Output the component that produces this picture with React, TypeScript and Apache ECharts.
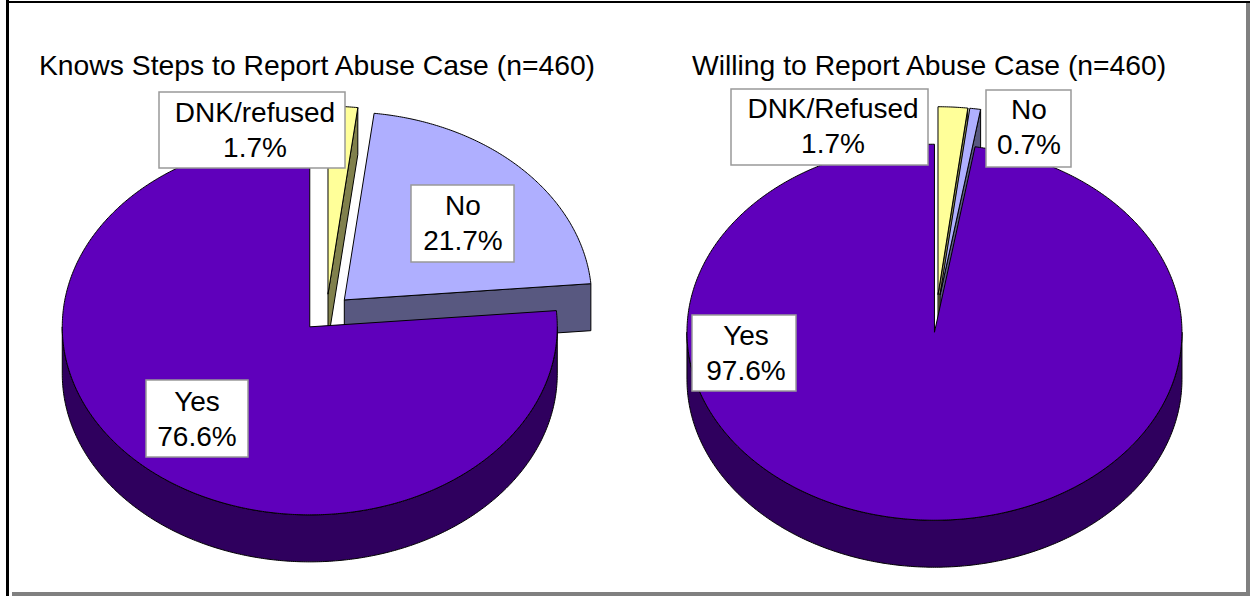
import React, { useEffect, useRef } from "react";
import * as echarts from "echarts";

// Data
const leftTitle = "Knows Steps to Report Abuse Case (n=460)";
const rightTitle = "Willing to Report Abuse Case (n=460)";
const leftCategories = ["DNK/refused", "No", "Yes"];
const leftValues = [1.7, 21.7, 76.6];
const rightCategories = ["DNK/Refused", "No", "Yes"];
const rightValues = [1.7, 0.7, 97.6];

const TOP_COLORS = ["#FFFF99", "#AFAFFF", "#5F00BB"];
const WALL_COLORS = ["#80804C", "#585880", "#2F005E"];

const RX = 247.5;
const RY = 188;
const DEPTH = 47;
const EXPLODE = 0.1;
const FIRST_EDGE_SHIFT = 0.8; // the original's projection places inner slice edges slightly clockwise
const FONT = "'Liberation Sans', Arial, sans-serif";

const rad = (d: number) => (d * Math.PI) / 180;

function makeSeries(values: number[], cx: number, cy: number) {
  const total = values.reduce((a, b) => a + b, 0);
  // slices run clockwise from 12 o'clock, so in maths angles they descend from 90°
  const spans: [number, number][] = [];
  let cur = 90 - FIRST_EDGE_SHIFT;
  values.forEach((v, idx) => {
    const next = cur - (v / total) * 360;
    spans.push([idx === values.length - 1 ? -270 : next, idx === 0 ? 90 : cur]);
    cur = next;
  });

  return {
    type: "custom",
    coordinateSystem: "none",
    silent: true,
    data: values.map((v) => [v]),
    renderItem: (params: any) => {
      const i = params.dataIndex;
      const [a1, a2] = spans[i];
      const mid = rad((a1 + a2) / 2);
      const ox = cx + EXPLODE * RX * Math.cos(mid);
      const oy = cy - EXPLODE * RY * Math.sin(mid);
      const pt = (deg: number, dz = 0) => [
        ox + RX * Math.cos(rad(deg)),
        oy - RY * Math.sin(rad(deg)) + dz,
      ];
      const stroke = { stroke: "#000", lineWidth: 1, lineJoin: "round" };
      const children: any[] = [];

      const arc = (from: number, to: number, dz = 0) => {
        const out: number[][] = [];
        const n = Math.max(2, Math.ceil(Math.abs(to - from) * 2));
        for (let k = 0; k <= n; k++) out.push(pt(from + ((to - from) * k) / n, dz));
        return out;
      };
      const wallPoly = (points: number[][]) =>
        children.push({
          type: "polygon",
          shape: { points },
          style: { fill: WALL_COLORS[i], ...stroke },
        });

      // cut face that looks towards the viewer
      if (i < values.length - 1 && Math.cos(rad(a1)) > 1e-6) {
        wallPoly([[ox, oy], pt(a1), pt(a1, DEPTH), [ox, oy + DEPTH]]);
      }

      // outer rim: the part on the front half of the ellipse
      for (let shift = -720; shift <= 360; shift += 360) {
        const from = Math.max(a1, 180 + shift);
        const to = Math.min(a2, 360 + shift);
        if (to > from) {
          wallPoly([...arc(from, to), ...arc(to, from, DEPTH)]);
        }
      }

      // top face
      children.push({
        type: "polygon",
        shape: { points: [[ox, oy], ...arc(a1, a2)] },
        style: { fill: TOP_COLORS[i], ...stroke },
      });
      return { type: "group", children };
    },
  };
}

function labelBox(
  name: string,
  value: number,
  box: [number, number, number, number],
  textX: number,
  textY: number
) {
  return [
    {
      type: "rect",
      z: 100,
      shape: { x: box[0], y: box[1], width: box[2], height: box[3] },
      style: { fill: "#fff", stroke: "#999", lineWidth: 1.5 },
    },
    {
      type: "text",
      z: 101,
      x: textX,
      y: textY,
      style: {
        text: `${name}\n${value}%`,
        fill: "#000",
        font: `28px ${FONT}`,
        lineHeight: 35,
        textAlign: "center",
        textVerticalAlign: "top",
      },
    },
  ];
}

const frameRect = (x: number, y: number, width: number, height: number, fill: string) => ({
  type: "rect",
  z: 200,
  shape: { x, y, width, height },
  style: { fill },
});

const titleStyle = { fontFamily: FONT, fontSize: 28.3, fontWeight: "normal", color: "#000" };

export default function App() {
  const ref = useRef<HTMLDivElement>(null);
  useEffect(() => {
    document.body.style.margin = "0";
    document.body.style.overflow = "hidden";
    const chart = echarts.init(ref.current!, null, { renderer: "svg" });
    // draw order: the first slices lie behind, and Yes comes last
    chart.setOption({
      animation: false,
      backgroundColor: "#fff",
      tooltip: { show: false },
      title: [
        { text: leftTitle, left: 39, top: 51, padding: 0, textStyle: titleStyle },
        { text: rightTitle, left: 692, top: 51, padding: 0, textStyle: titleStyle },
      ],
      series: [makeSeries(leftValues, 326.5, 313), makeSeries(rightValues, 936.5, 313.5)],
      graphic: [
        ...labelBox(leftCategories[0], leftValues[0], [159, 92, 186, 76], 255, 95),
        ...labelBox(leftCategories[1], leftValues[1], [411, 185, 103, 77], 463, 188),
        ...labelBox(leftCategories[2], leftValues[2], [146, 380, 102, 77], 197, 384),
        ...labelBox(rightCategories[0], rightValues[0], [731, 89, 197, 76], 833, 91),
        ...labelBox(rightCategories[1], rightValues[1], [986, 90, 85, 77], 1029, 92),
        ...labelBox(rightCategories[2], rightValues[2], [692, 315, 104, 76], 746, 318),
        frameRect(6, 0, 3, 596, "#000"),
        frameRect(6, 1, 1244, 2, "#000"),
        frameRect(1246, 3, 4, 593, "#808080"),
        frameRect(12, 592, 1238, 4, "#808080"),
      ],
    });
    return () => chart.dispose();
  }, []);
  return (
    <div
      ref={ref}
      style={{ position: "absolute", left: 0, top: 0, width: 1250, height: 596 }}
    />
  );
}
